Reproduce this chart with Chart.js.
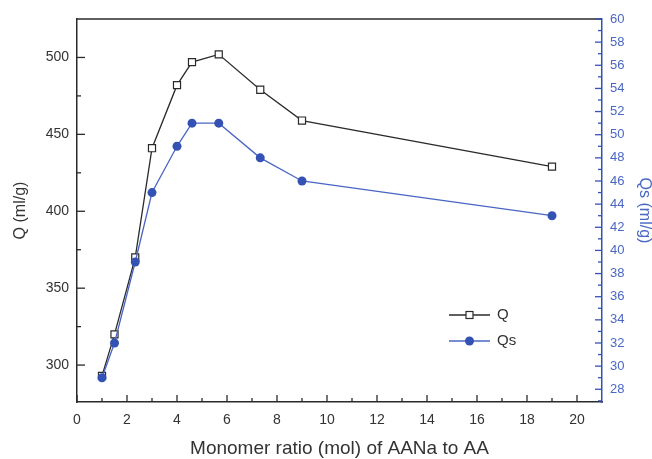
<!DOCTYPE html>
<html>
<head>
<meta charset="utf-8">
<script src="https://cdn.jsdelivr.net/npm/chart.js@4"></script>
<style>
  html, body { margin: 0; padding: 0; background: #fff; }
  canvas { display: block; }
</style>
</head>
<body>
<canvas id="chart" width="652" height="459"></canvas>
<script>
// monomer ratio AANa : AA
const ratios = [1, 1.5, 2.33, 3, 4, 4.6, 5.67, 7.33, 9, 19];
const qValues = [293, 320, 370, 441, 482, 497, 502, 479, 459, 429];
const qsValues = [29, 32, 39, 45, 49, 51, 51, 48, 46, 43];

const xTicks = [0, 2, 4, 6, 8, 10, 12, 14, 16, 18, 20];
const xMinor = [1, 3, 5, 7, 9, 11, 13, 15, 17, 19];
const qTicks = [300, 350, 400, 450, 500];
const qMinor = [325, 375, 425, 475];
const qsTicks = [28, 30, 32, 34, 36, 38, 40, 42, 44, 46, 48, 50, 52, 54, 56, 58, 60];
const qsMinor = [27, 29, 31, 33, 35, 37, 39, 41, 43, 45, 47, 49, 51, 53, 55, 57, 59];

const DARK = '#2a2a2a';
const BLUE = '#3452b4';
const BLUE_LINE = '#4a66c4';

Chart.defaults.font.family = '"Liberation Sans", Arial, sans-serif';

const toTicks = arr => arr.map(v => ({ value: v }));

// ticks drawn inward, plus the top frame line
const innerTicks = {
    id: 'innerTicks',
    beforeDatasetsDraw(chart) {
        const { ctx, chartArea: a, scales } = chart;
        ctx.save();
        ctx.lineWidth = 1.3;

        ctx.strokeStyle = DARK;
        ctx.beginPath();
        ctx.moveTo(a.left, a.top);
        ctx.lineTo(a.right, a.top);
        ctx.stroke();

        const vTicks = (values, len) => {
            values.forEach(v => {
                const px = scales.x.getPixelForValue(v);
                ctx.beginPath();
                ctx.moveTo(px, a.bottom);
                ctx.lineTo(px, a.bottom - len);
                ctx.stroke();
            });
        };
        const hTicks = (scale, values, x0, dir, len) => {
            values.forEach(v => {
                const py = scale.getPixelForValue(v);
                ctx.beginPath();
                ctx.moveTo(x0, py);
                ctx.lineTo(x0 + dir * len, py);
                ctx.stroke();
            });
        };

        vTicks(xTicks, 7);
        vTicks(xMinor, 4);
        hTicks(scales.y, qTicks, a.left, 1, 8);
        hTicks(scales.y, qMinor, a.left, 1, 4);

        ctx.strokeStyle = BLUE;
        hTicks(scales.y1, qsTicks, a.right, -1, 7);
        hTicks(scales.y1, qsMinor, a.right, -1, 4);
        ctx.restore();
    }
};

// legend: line with marker, then label
const lineLegend = {
    id: 'lineLegend',
    afterDraw(chart) {
        const { ctx, chartArea: a } = chart;
        const x0 = a.left + 372, x1 = a.left + 413, xm = (x0 + x1) / 2;
        const rows = [
            { text: 'Q', y: a.top + 296, color: DARK, marker: 'rect' },
            { text: 'Qs', y: a.top + 322, color: BLUE_LINE, marker: 'circle' }
        ];
        ctx.save();
        rows.forEach(r => {
            ctx.strokeStyle = r.color;
            ctx.lineWidth = 1.3;
            ctx.beginPath();
            ctx.moveTo(x0, r.y);
            ctx.lineTo(x1, r.y);
            ctx.stroke();
            if (r.marker === 'rect') {
                ctx.fillStyle = '#fff';
                ctx.strokeStyle = DARK;
                ctx.lineWidth = 1.2;
                ctx.fillRect(xm - 3.5, r.y - 3.5, 7, 7);
                ctx.strokeRect(xm - 3.5, r.y - 3.5, 7, 7);
            } else {
                ctx.fillStyle = BLUE;
                ctx.beginPath();
                ctx.arc(xm, r.y, 4.5, 0, Math.PI * 2);
                ctx.fill();
            }
            ctx.fillStyle = '#333';
            ctx.font = '15px "Liberation Sans", Arial, sans-serif';
            ctx.textBaseline = 'middle';
            ctx.fillText(r.text, x1 + 7, r.y);
        });
        ctx.restore();
    }
};

new Chart(document.getElementById('chart'), {
    type: 'line',
    data: {
        datasets: [
            {
                label: 'Q',
                data: ratios.map((x, i) => ({ x, y: qValues[i] })),
                yAxisID: 'y',
                borderColor: DARK,
                borderWidth: 1.3,
                pointStyle: 'rect',
                pointRadius: 5,
                pointBackgroundColor: '#fff',
                pointBorderColor: DARK,
                pointBorderWidth: 1.2,
                order: 2
            },
            {
                label: 'Qs',
                data: ratios.map((x, i) => ({ x, y: qsValues[i] })),
                yAxisID: 'y1',
                borderColor: BLUE_LINE,
                borderWidth: 1.3,
                pointStyle: 'circle',
                pointRadius: 4.5,
                pointBackgroundColor: BLUE,
                pointBorderColor: BLUE,
                pointBorderWidth: 0,
                order: 1
            }
        ]
    },
    options: {
        responsive: false,
        animation: false,
        devicePixelRatio: 1,
        layout: { padding: { top: 19, left: 0, right: 0, bottom: 0 } },
        plugins: {
            legend: { display: false },
            tooltip: { enabled: false }
        },
        scales: {
            x: {
                type: 'linear',
                min: 0,
                max: 21,
                afterFit: s => { s.height = 57; },
                afterBuildTicks: s => { s.ticks = toTicks(xTicks); },
                grid: { display: false, drawTicks: false },
                border: { display: true, color: DARK, width: 1.5 },
                ticks: { padding: 10, color: '#333', font: { size: 14 } },
                title: {
                    display: true,
                    text: 'Monomer ratio (mol) of AANa to AA',
                    color: '#333',
                    font: { size: 19, lineHeight: 1 },
                    padding: { top: 0, bottom: 1 }
                }
            },
            y: {
                position: 'left',
                min: 276,
                max: 525,
                afterFit: s => { s.width = 77; },
                afterBuildTicks: s => { s.ticks = toTicks(qTicks); },
                grid: { display: false, drawTicks: false },
                border: { display: true, color: DARK, width: 1.5 },
                ticks: { padding: 8, color: '#333', font: { size: 14 } },
                title: {
                    display: true,
                    text: 'Q (ml/g)',
                    color: '#333',
                    font: { size: 16, lineHeight: 1 },
                    padding: { top: 13, bottom: 0 }
                }
            },
            y1: {
                position: 'right',
                min: 26.9,
                max: 60,
                afterFit: s => { s.width = 50; },
                afterBuildTicks: s => { s.ticks = toTicks(qsTicks); },
                grid: { display: false, drawTicks: false },
                border: { display: true, color: BLUE, width: 1.5 },
                ticks: { padding: 8, color: BLUE_LINE, font: { size: 13 } },
                title: {
                    display: true,
                    text: 'Qs (ml/g)',
                    color: BLUE_LINE,
                    font: { size: 16, lineHeight: 1 },
                    padding: { top: 0, bottom: 1 }
                }
            }
        }
    },
    plugins: [innerTicks, lineLegend]
});
</script>
</body>
</html>
